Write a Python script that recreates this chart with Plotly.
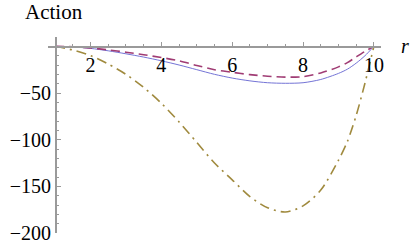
import numpy as np
import plotly.graph_objects as go

# ---- data ----
r_vals = [1, 1.5, 2, 2.5, 3, 3.5, 4, 4.5, 5, 5.5, 6, 6.5, 7, 7.5, 8, 8.5, 9, 9.25, 9.5, 9.75, 10]
action_solid = [0, -0.6, -2.2, -4.8, -8, -11.5, -15.5, -20, -25, -30, -34, -37, -39, -39.6, -39, -35.5, -29, -24.5, -18, -10, 0]
action_dashed = [0, -0.5, -1.8, -3.8, -6.3, -9, -12, -15.5, -20.5, -25, -27.8, -30.3, -32, -33, -32.5, -28.5, -22, -17.5, -11.3, -5.3, 0]
action_dashdot = [0, -4, -10, -19, -30, -44, -61, -81, -103, -125, -143, -161, -173, -177.5, -171, -154, -122, -102, -74, -39, 0]

x_ticks = [2, 4, 6, 8, 10]
y_ticks = [-200, -150, -100, -50]
y_ticktext = ["\u2212200", "\u2212150", "\u2212100", "\u221250"]

# ---- layout geometry ----
W, H = 410, 245
ML, MR, MT, MB = 48, 29, 37.4, 11.7
XR = [0.8, 10.2]
YR = [-200, 10]

def px_to_paper_x(px):
    return (px - ML) / (W - ML - MR)

def py_to_paper_y(py):
    return 1 - (py - MT) / (H - MT - MB)

fig = go.Figure()
fig.add_trace(go.Scatter(x=r_vals, y=action_solid, mode="lines",
                         line=dict(color="#7474d6", width=1, shape="spline", smoothing=0.8)))
fig.add_trace(go.Scatter(x=r_vals, y=action_dashed, mode="lines",
                         line=dict(color="#a03c74", width=1.6, dash="9px,5px", shape="spline", smoothing=0.8)))
fig.add_trace(go.Scatter(x=r_vals, y=action_dashdot, mode="lines",
                         line=dict(color="#a08a3e", width=1.6, dash="10px,5px,2px,5px", shape="spline", smoothing=0.8)))

font = dict(family="Liberation Serif, Times New Roman, serif", size=20, color="black")
title_font = dict(family="Liberation Serif, Times New Roman, serif", size=21, color="black")

x_minor = [v for v in np.arange(1.5, 10.01, 0.5) if v not in x_ticks]
y_minor = [v for v in np.arange(-190, 10.01, 10) if v % 50 != 0]

fig.update_layout(
    width=W, height=H,
    margin=dict(l=ML, r=MR, t=MT, b=MB, pad=0, autoexpand=False),
    paper_bgcolor="white", plot_bgcolor="white",
    showlegend=False,
    font=font,
    hovermode=False,
    title=dict(text="Action", xref="container", yref="container",
               x=25 / W, xanchor="left", y=1 - 12 / H, yanchor="middle", font=title_font),
    xaxis=dict(range=XR, anchor="free", position=(0 - YR[0]) / (YR[1] - YR[0]),
               showgrid=False, zeroline=False, showline=True, linecolor="#9a9a9a", linewidth=1.5,
               tickmode="array", tickvals=x_ticks, ticks="inside", ticklen=4, tickcolor="#9a9a9a",
               tickwidth=1, tickfont=font,
               minor=dict(tickmode="array", tickvals=x_minor, ticks="inside", ticklen=2.5,
                          tickcolor="#9a9a9a", tickwidth=1, showgrid=False)),
    yaxis=dict(range=YR, anchor="free", position=(1 - XR[0]) / (XR[1] - XR[0]),
               showgrid=False, zeroline=False, showline=True, linecolor="#9a9a9a", linewidth=1.5,
               tickmode="array", tickvals=y_ticks, ticktext=y_ticktext, ticks="inside", ticklen=4,
               tickcolor="#9a9a9a", tickwidth=1, tickfont=font,
               minor=dict(tickmode="array", tickvals=y_minor, ticks="inside", ticklen=2.5,
                          tickcolor="#9a9a9a", tickwidth=1, showgrid=False)),
    annotations=[
        dict(text="<i>r</i>", xref="paper", yref="paper", x=px_to_paper_x(399), y=py_to_paper_y(46),
             xanchor="left", yanchor="middle", showarrow=False, font=font),
    ],
)

fig.write_html("out.html", config={"staticPlot": True, "displayModeBar": False},
               post_script="document.body.style.margin='0px';")
